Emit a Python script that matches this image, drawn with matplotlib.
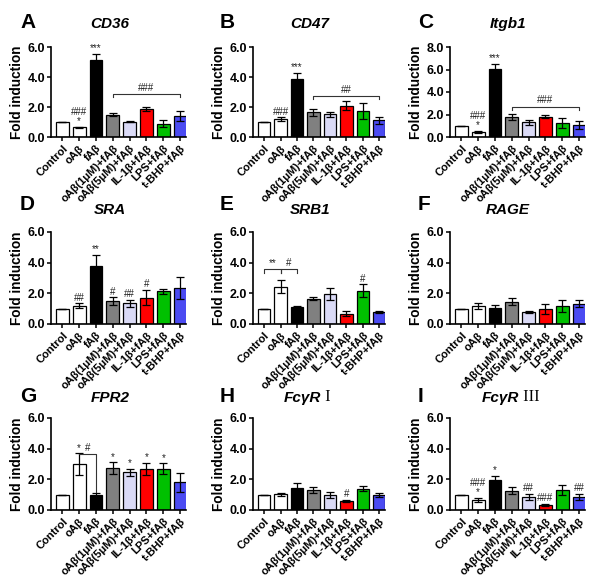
import numpy as np
import matplotlib.pyplot as plt

plt.rcParams['font.family'] = ['Liberation Sans', 'DejaVu Sans']
plt.rcParams['font.weight'] = 'bold'

groups = ['Control', 'oAβ', 'fAβ', 'oAβ(1μM)+fAβ', 'oAβ(5μM)+fAβ',
          'IL-1β+fAβ', 'LPS+fAβ', 't-BHP+fAβ']
colors = ['white', 'white', 'black', '#808080', '#dadaf6',
          '#ff0000', '#00c000', '#4b4bf2']

# fold induction (mean) and error per panel
cd36 = [1.0, 0.65, 5.15, 1.49, 1.01, 1.87, 0.88, 1.38]
cd36_err = [0.0, 0.03, 0.38, 0.10, 0.03, 0.15, 0.23, 0.33]
cd47 = [1.0, 1.19, 3.89, 1.65, 1.51, 2.10, 1.72, 1.12]
cd47_err = [0.0, 0.13, 0.38, 0.25, 0.18, 0.30, 0.55, 0.24]
itgb1 = [1.0, 0.44, 6.03, 1.77, 1.29, 1.82, 1.24, 1.09]
itgb1_err = [0.0, 0.08, 0.45, 0.26, 0.19, 0.11, 0.46, 0.34]
sra = [1.0, 1.19, 3.79, 1.49, 1.34, 1.72, 2.12, 2.34]
sra_err = [0.0, 0.15, 0.71, 0.25, 0.25, 0.49, 0.18, 0.73]
srb1 = [1.0, 2.42, 1.09, 1.66, 1.97, 0.68, 2.18, 0.79]
srb1_err = [0.0, 0.43, 0.10, 0.10, 0.38, 0.15, 0.40, 0.06]
rage = [1.0, 1.20, 1.05, 1.46, 0.79, 0.98, 1.19, 1.33]
rage_err = [0.0, 0.20, 0.17, 0.21, 0.08, 0.35, 0.38, 0.25]
fpr2 = [1.0, 2.99, 0.98, 2.72, 2.47, 2.69, 2.69, 1.80]
fpr2_err = [0.0, 0.70, 0.11, 0.39, 0.22, 0.38, 0.35, 0.64]
fcgr1 = [1.0, 1.03, 1.42, 1.31, 0.98, 0.61, 1.38, 0.98]
fcgr1_err = [0.0, 0.09, 0.33, 0.22, 0.17, 0.07, 0.17, 0.11]
fcgr3 = [1.0, 0.66, 1.96, 1.26, 0.86, 0.33, 1.30, 0.86]
fcgr3_err = [0.0, 0.11, 0.27, 0.22, 0.18, 0.07, 0.31, 0.18]

# significance marks above each bar
cd36_marks = ['', '###\n*', '***', '', '', '', '', '']
cd47_marks = ['', '###', '***', '', '', '', '', '']
itgb1_marks = ['', '###\n*', '***', '', '', '', '', '']
sra_marks = ['', '##', '**', '#', '##', '#', '', '']
srb1_marks = ['', '', '', '', '', '', '#', '']
rage_marks = ['', '', '', '', '', '', '', '']
fpr2_marks = ['', '*', '', '*', '*', '*', '*', '']
fcgr1_marks = ['', '', '', '', '', '#', '', '']
fcgr3_marks = ['', '###\n*', '*', '', '##', '###', '', '##']

# brackets: (from bar, to bar, height, left end, right end, label)
cd36_br = [(3, 7, 2.87, 2.65, 2.65, '###')]
cd47_br = [(3, 7, 2.73, 2.52, 2.52, '##')]
itgb1_br = [(3, 7, 2.70, 2.42, 2.42, '###')]
srb1_br = [(0, 1, 3.56, 3.32, 3.32, '**'), (1, 2, 3.56, 3.32, 3.32, '#')]
fpr2_br = [(1, 2, 3.62, 3.62, 1.15, '#')]

panels = [
    ('A', 'CD36', '', cd36, cd36_err, cd36_marks, cd36_br, 6),
    ('B', 'CD47', '', cd47, cd47_err, cd47_marks, cd47_br, 6),
    ('C', 'Itgb1', '', itgb1, itgb1_err, itgb1_marks, itgb1_br, 8),
    ('D', 'SRA', '', sra, sra_err, sra_marks, [], 6),
    ('E', 'SRB1', '', srb1, srb1_err, srb1_marks, srb1_br, 6),
    ('F', 'RAGE', '', rage, rage_err, rage_marks, [], 6),
    ('G', 'FPR2', '', fpr2, fpr2_err, fpr2_marks, fpr2_br, 6),
    ('H', 'FcγR', 'I', fcgr1, fcgr1_err, fcgr1_marks, [], 6),
    ('I', 'FcγR', 'III', fcgr3, fcgr3_err, fcgr3_marks, [], 6),
]

W, H = 600, 580
rows = [(47, 137, 23, 24), (232, 324, 204, 210), (418, 510, 396, 398)]
cols = [(51, 186, 20, 110), (253, 385, 220, 310), (450, 585, 418, 508)]

fig = plt.figure(figsize=(6, 5.8), dpi=100)
x = np.arange(len(groups))

for k, (letter, gene, roman, vals, errs, marks, brackets, ymax) in enumerate(panels):
    top, bot, ly, ty = rows[k // 3]
    left, right, lx, tx = cols[k % 3]
    ax = fig.add_axes([left / W, 1 - bot / H, (right - left) / W, (bot - top) / H])
    ax.bar(x, vals, width=0.76, color=colors, edgecolor='black', linewidth=0.9,
           yerr=errs, capsize=2.8,
           error_kw=dict(elinewidth=0.9, capthick=0.9, ecolor='black'))
    ax.set_xlim(-0.68, 7.35)
    ax.set_ylim(0, ymax)
    ax.set_yticks(np.arange(0, ymax + 0.1, 2))
    ax.set_yticklabels(['%.1f' % v for v in np.arange(0, ymax + 0.1, 2)],
                       fontsize=9, fontweight='bold')
    ax.set_xticks(x)
    ax.set_xticklabels(groups, rotation=45, ha='right', rotation_mode='anchor',
                       fontsize=8, fontweight='bold')
    ax.tick_params(axis='both', direction='out', length=3, width=1.1, pad=1.5)
    ax.tick_params(axis='y', pad=1)
    for s in ['top', 'right']:
        ax.spines[s].set_visible(False)
    for s in ['left', 'bottom']:
        ax.spines[s].set_linewidth(1.2)
    ax.set_ylabel('Fold induction', fontsize=9.8, fontweight='bold', labelpad=3)

    for i, m in enumerate(marks):
        if m:
            ax.annotate(m, (i, vals[i] + errs[i]), xytext=(0, 0.5),
                        textcoords='offset points', ha='center', va='bottom',
                        fontsize=7, linespacing=0.95, color='#222222',
                        fontweight='normal')
    for i, j, yb, yl, yr, lab in brackets:
        ax.plot([i, i, j, j], [yl, yb, yb, yr], color='#333333', lw=0.8,
                clip_on=False)
        ax.annotate(lab, ((i + j) / 2, yb), xytext=(0, 1),
                    textcoords='offset points', ha='center', va='bottom',
                    fontsize=7, color='#222222', fontweight='normal')

    fig.text(lx / W, 1 - ly / H, letter, fontsize=15, fontweight='bold',
             ha='left', va='center')
    if roman:
        t1 = fig.text((tx - 26) / W, 1 - ty / H, gene, fontsize=11,
                      fontweight='bold', style='italic', ha='left', va='center')
        ax.annotate(' ' + roman, xy=(1, 0), xycoords=t1, ha='left', va='bottom',
                    fontsize=12, family='Liberation Serif', fontweight='normal',
                    annotation_clip=False)
    else:
        fig.text(tx / W, 1 - ty / H, gene, fontsize=11, fontweight='bold',
                 style='italic', ha='center', va='center')

fig.savefig('out.png', dpi=100)
